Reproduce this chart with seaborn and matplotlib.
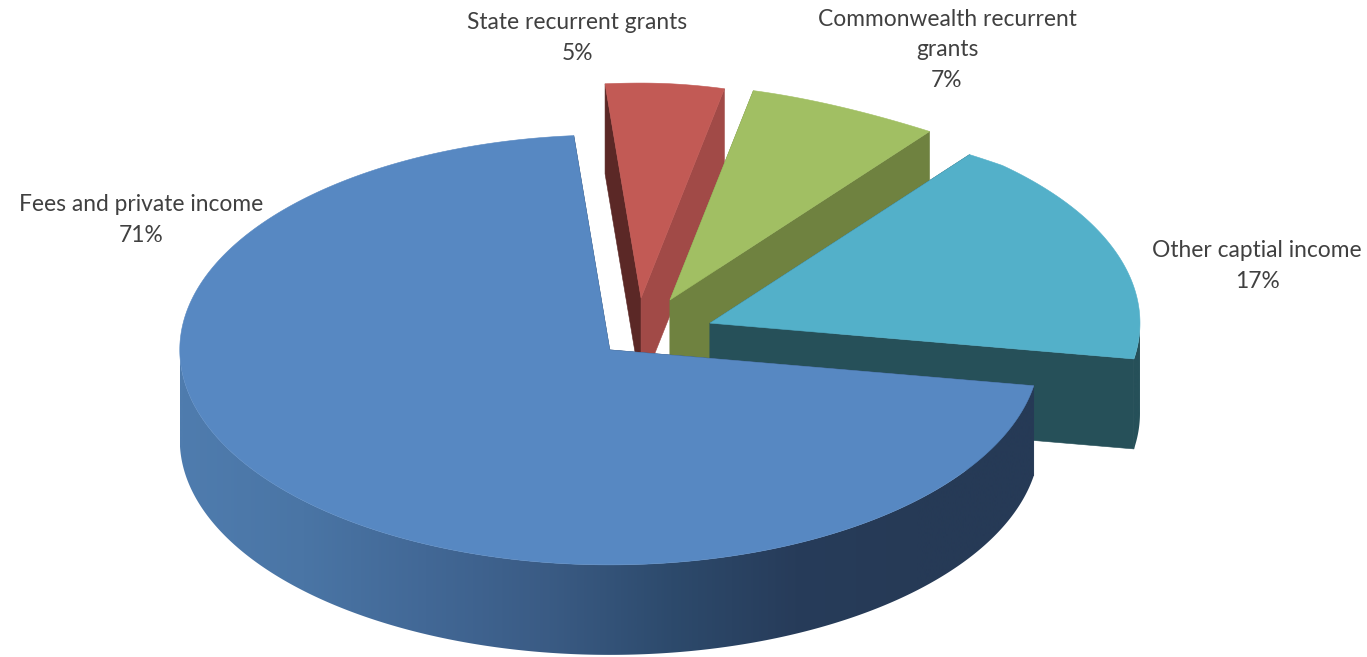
import numpy as np
import matplotlib
matplotlib.use("Agg")
import matplotlib.pyplot as plt
from matplotlib.patches import Polygon
import seaborn as sns

# Income shares, in drawing order clockwise from the top of the pie
categories = ["State recurrent grants", "Commonwealth recurrent\ngrants",
              "Other captial income", "Fees and private income"]
shares = [5, 7, 17, 71]

# Surface colours for each slice
top_colors = ["#c25a55", "#a1bf63", "#53b0c9", "#5788c2"]
left_face = ["#5b2826", "#6f8240", "#265059", "#263a56"]
right_face = ["#a14a47", "#6f8240", "#265059", "#263a56"]
rim_ramps = [["#a14a47", "#a14a47"], ["#6f8240", "#6f8240"],
             ["#265059", "#265059"],
             ["#4f7cae", "#4a75a5", "#426896", "#3a5b84", "#2d4a6c",
              "#273c5a", "#263a56", "#263a56"]]

# Pull-out of each slice from the pie centre: distance and direction in the pie plane
explode = [0.155, 0.151, 0.142, 0.130]
explode_dir = [98.6, 73, 15, 222.5]

# Pie projection in figure pixels
CENTER = np.array([651.0, 331.0])
RX, RY = 430.0, 215.0
DEPTH = 90.0
START_ANGLE = 94.8
FORESHORTEN = 0.17
FORESHORTEN_SPAN = 0.68

label_pos = [(577, 38), (947, 50), (1257, 266), (141, 220)]

sns.set_theme(style="white")
plt.rcParams["font.family"] = ["Lato", "DejaVu Sans"]

fig = plt.figure(figsize=(13.67, 6.57), dpi=100)
ax = fig.add_axes([0, 0, 1, 1])


def project(apex, theta):
    """Map a pie-plane angle onto the tilted ellipse, narrowing the far right quadrant."""
    t = np.radians(np.atleast_1d(theta))
    u, v = np.cos(t), np.sin(t)
    squeeze = FORESHORTEN * np.clip(1 - (u / FORESHORTEN_SPAN) ** 2, 0, 1)
    u = np.where((u > 0) & (v > 0), u * (1 - squeeze), u)
    return np.column_stack([apex[0] + RX * u, apex[1] - RY * v])


def add_poly(points, color, z):
    ax.add_patch(Polygon(points, closed=True, facecolor=color, edgecolor=color,
                         linewidth=0.4, zorder=z))


edges = START_ANGLE - np.cumsum([0] + shares) * 360.0 / sum(shares)
drop = np.array([0.0, DEPTH])

for i, share in enumerate(shares):
    z = i * 10
    d = np.radians(explode_dir[i])
    apex = CENTER + explode[i] * np.array([RX * np.cos(d), -RY * np.sin(d)])
    a0, a1 = edges[i], edges[i + 1]
    angles = np.linspace(a0, a1, int(abs(a0 - a1) * 3) + 2)
    arc = project(apex, angles)

    # Cut faces behind the top surface
    for corner, color in ((arc[0], left_face[i]), (arc[-1], right_face[i])):
        add_poly([apex, corner, corner + drop, apex + drop], color, z)

    # Outer rim on the camera-facing part of the arc, shaded across the pie width
    front = arc[np.sin(np.radians(angles)) <= 0.01]
    if len(front) >= 2:
        rim = Polygon(np.vstack([front, front[::-1] + drop]), closed=True,
                      transform=ax.transData)
        shade = sns.blend_palette(rim_ramps[i], n_colors=256, as_cmap=True)
        image = ax.imshow(np.linspace(0, 1, 512)[None, :], cmap=shade, aspect="auto",
                          extent=(apex[0] - RX, apex[0] + RX,
                                  apex[1] + RY + DEPTH, apex[1] - RY),
                          interpolation="bilinear", zorder=z + 1)
        image.set_clip_path(rim)

    # Flat top surface
    add_poly(np.vstack([apex, arc]), top_colors[i], z + 2)

for name, share, (x, y) in zip(categories, shares, label_pos):
    ax.text(x, y, f"{name}\n{share}%", ha="center", va="center", multialignment="center",
            fontsize=16.4, color="#404040", linespacing=1.56, zorder=100)

ax.set_xlim(0, 1367)
ax.set_ylim(657, 0)
ax.axis("off")

fig.savefig("out.png", dpi=100, facecolor="white")
